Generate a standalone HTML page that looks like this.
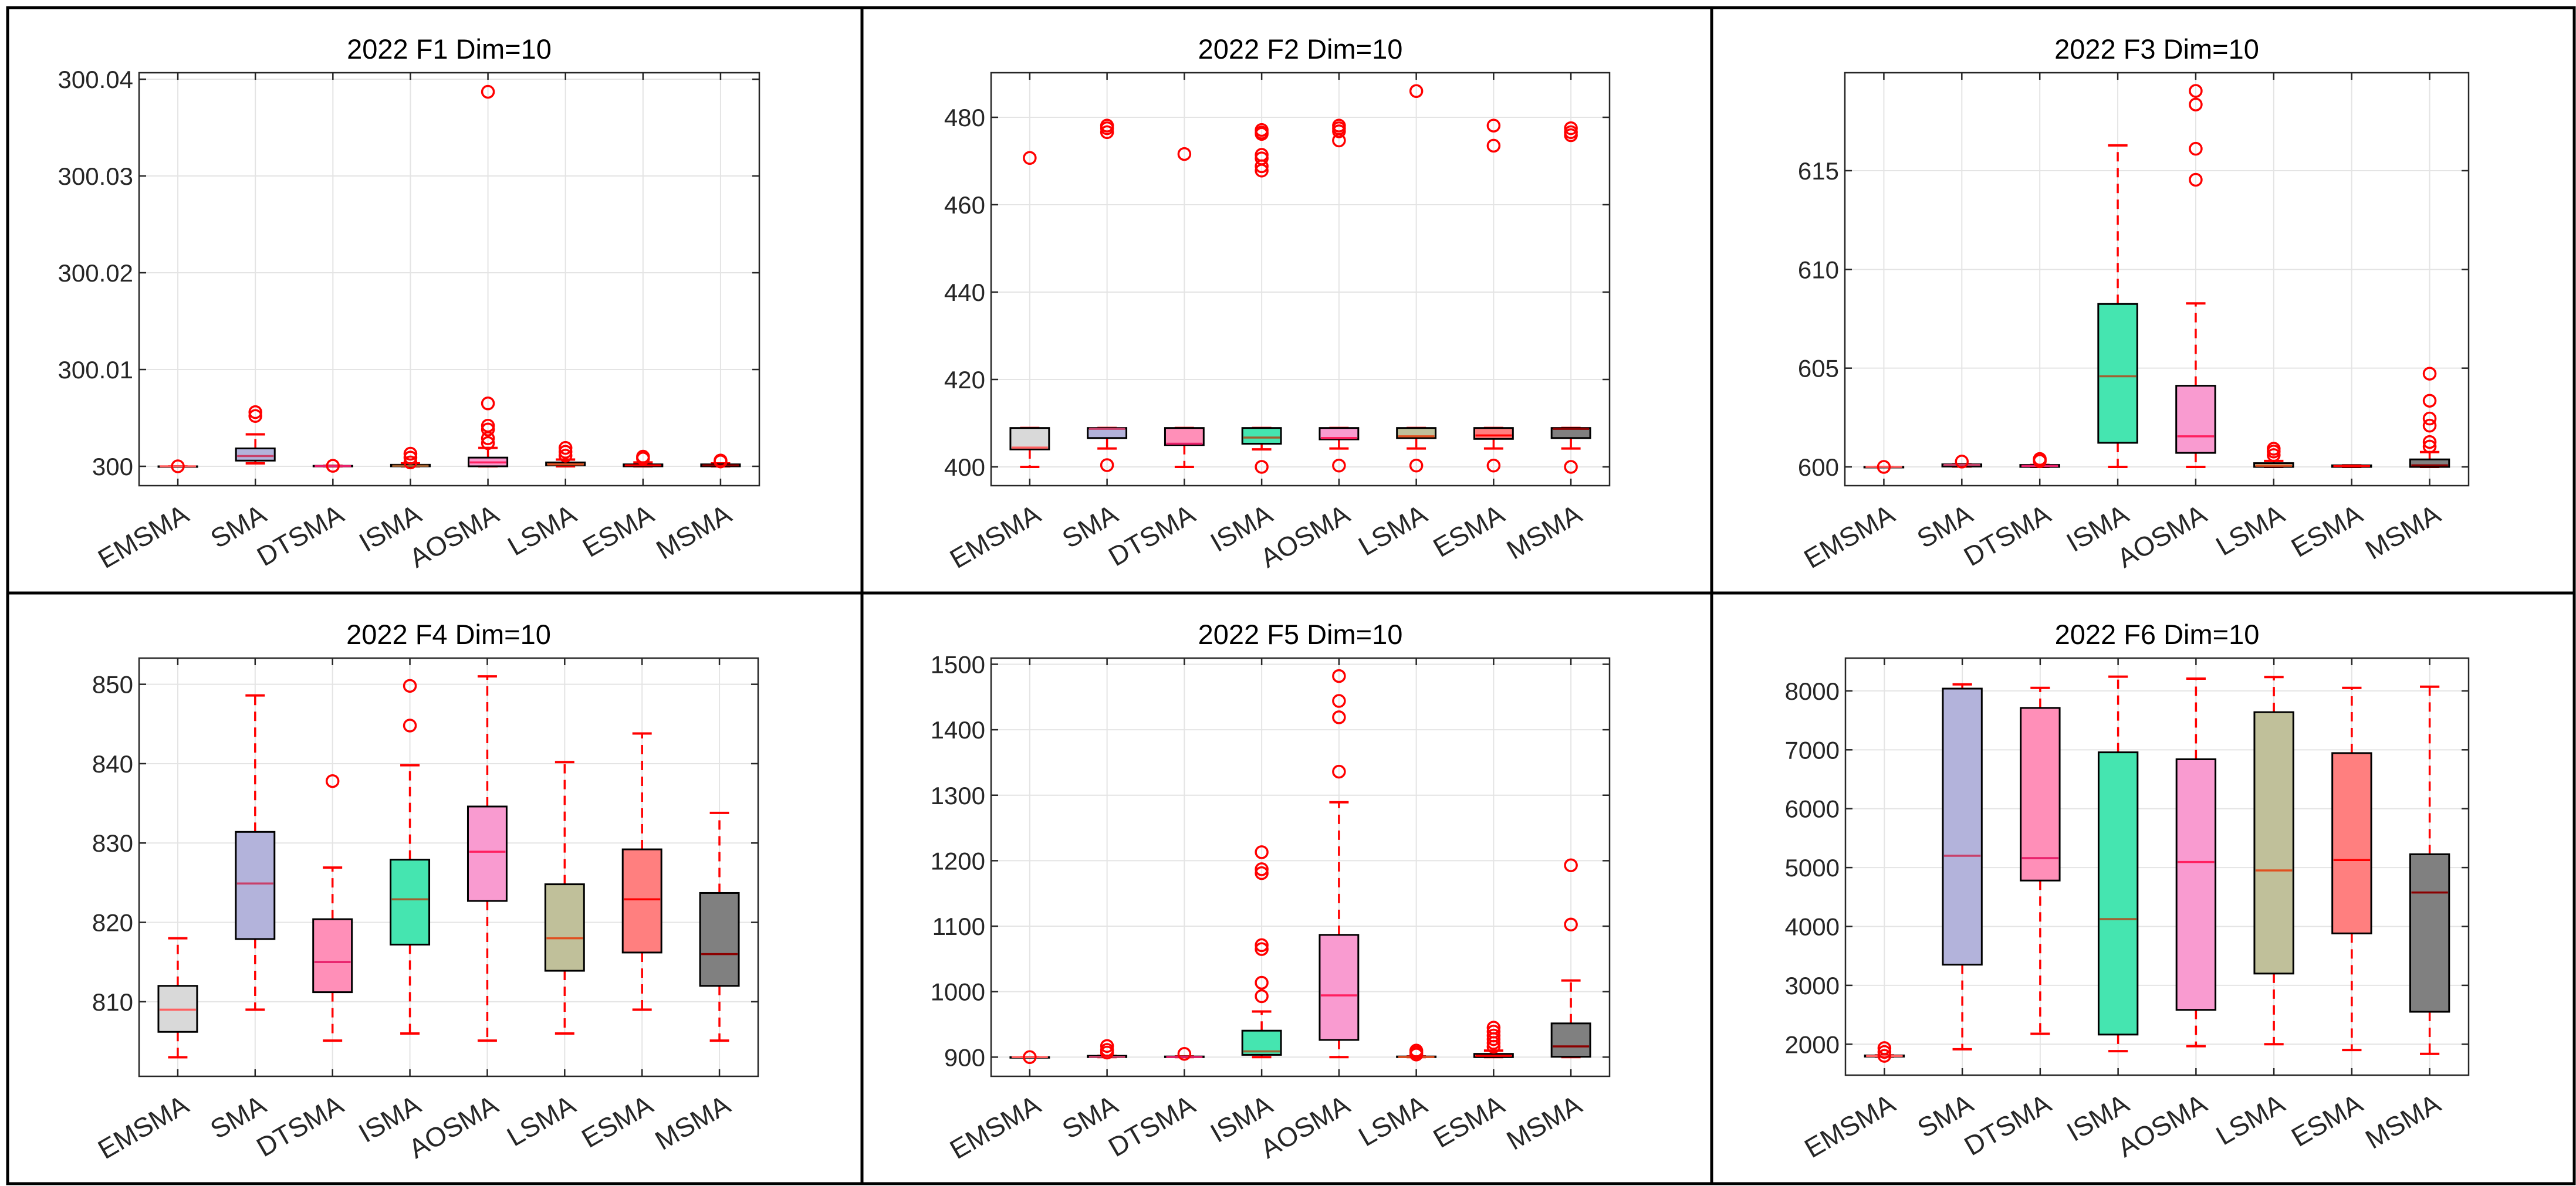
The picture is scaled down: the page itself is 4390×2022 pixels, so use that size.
<!DOCTYPE html>
<html><head><meta charset="utf-8"><style>
html,body{margin:0;padding:0;background:#fff;}
svg{display:block;font-family:"Liberation Sans",Arial,sans-serif;}
</style></head><body>
<svg id="fig" width="4390" height="2022" viewBox="0 0 4390 2022" xmlns="http://www.w3.org/2000/svg">
<rect x="0" y="0" width="4390" height="2022" fill="#fff"/>
<g id="plots"></g>
<g stroke="#000" stroke-width="5" fill="none">
<rect x="13" y="13" width="4374" height="2005"/>
<line x1="1469" y1="13" x2="1469" y2="2018"/>
<line x1="2917" y1="13" x2="2917" y2="2018"/>
<line x1="13" y1="1011" x2="4387" y2="1011"/>
</g>
</svg>
<script>
const categories = ["EMSMA","SMA","DTSMA","ISMA","AOSMA","LSMA","ESMA","MSMA"];
const fillColors = ["#d9d9d9","#b3b3db","#ff8fb8","#45e5b0","#f99bd0","#c0c09a","#ff7f7f","#808080"];
const medianColors = ["#ff6060","#c8406a","#e8206a","#a06030","#ff2060","#e05020","#ff0000","#8b0000"];

// F1
const f1Lo  = [300, 300.0003, 300, 300, 300, 300.0000, 300, 300];
const f1Q1  = [300, 300.00059, 300, 300, 300, 300.0001, 300, 300];
const f1Med = [300, 300.00106, 300.00002, 300.00005, 300.0004, 300.0002, 300.0001, 300.0001];
const f1Q3  = [300, 300.00185, 300.00005, 300.00016, 300.0009, 300.0004, 300.0002, 300.0002];
const f1Hi  = [300, 300.0033, 300.00005, 300.0003, 300.0019, 300.0007, 300.0004, 300.0003];
const f1Out = [[300],[300.0056,300.0052],[300.00005],[300.0013,300.0009,300.0004],[300.0024,300.0029,300.0038,300.0042,300.0065,300.0387],[300.0019,300.0015,300.0011],[300.0008,300.001],[300.0005,300.0006]];
const f1Ticks = [300, 300.01, 300.02, 300.03, 300.04];
const f1TickLabels = ["300","300.01","300.02","300.03","300.04"];
// F2
const f2Lo  = [400, 404.2, 400, 404.0, 404.2, 404.2, 404.2, 404.2];
const f2Q1  = [404.0, 406.6, 405.0, 405.3, 406.3, 406.6, 406.4, 406.6];
const f2Med = [404.4, 408.7, 405.3, 406.7, 406.6, 407.0, 407.2, 408.7];
const f2Q3  = [408.9, 408.9, 408.9, 408.9, 408.9, 408.9, 408.9, 408.9];
const f2Hi  = [408.9, 408.9, 408.9, 408.9, 408.9, 408.9, 408.9, 408.9];
const f2Out = [[470.7],[400.4,478.1,477.5,476.6],[471.6],[400,477.1,476.5,476.2,471.4,470.6,468.8,467.8],[400.3,478.1,477.5,476.8,474.7],[400.3,486],[400.3,478.1,473.5],[400,477.5,476.6,475.9]];
const f2Ticks = [400,420,440,460,480];
const f2TickLabels = ["400","420","440","460","480"];
// F3
const f3Lo  = [600, 600.02, 600, 600, 600, 600, 600, 600];
const f3Q1  = [600, 600.02, 600, 601.22, 600.71, 600, 600, 600];
const f3Med = [600, 600.1, 600.05, 604.59, 601.55, 600.06, 600.04, 600.08];
const f3Q3  = [600, 600.13, 600.1, 608.25, 604.11, 600.19, 600.08, 600.38];
const f3Hi  = [600, 600.13, 600.1, 616.28, 608.28, 600.3, 600.08, 600.75];
const f3Out = [[600],[600.27],[600.4,600.3],[],[619.04,618.35,616.11,614.54],[600.92,600.78,600.6],[],[604.72,603.35,602.45,602.09,601.26,601.03]];
const f3Ticks = [600,605,610,615];
const f3TickLabels = ["600","605","610","615"];
// F4
const f4Lo  = [803.0, 809.0, 805.1, 806.0, 805.1, 806.0, 809.0, 805.1];
const f4Q1  = [806.2, 817.9, 811.2, 817.2, 822.7, 813.9, 816.2, 812.0];
const f4Med = [809.0, 824.9, 815.0, 822.9, 828.9, 818.0, 822.9, 816.0];
const f4Q3  = [812.0, 831.4, 820.4, 827.9, 834.6, 824.8, 829.2, 823.7];
const f4Hi  = [818.0, 848.6, 826.9, 839.8, 851.0, 840.2, 843.8, 833.8];
const f4Out = [[],[],[837.8],[849.8,844.8],[],[],[],[]];
const f4Ticks = [810,820,830,840,850];
const f4TickLabels = ["810","820","830","840","850"];
// F5
const f5Lo  = [900, 900, 900, 900, 900, 900, 900, 900];
const f5Q1  = [900, 900, 900, 903.5, 926.3, 900, 900, 900.6];
const f5Med = [900, 900.5, 900.3, 908.8, 994.3, 900.3, 902, 916.4];
const f5Q3  = [900, 902, 901, 940.4, 1086.7, 901, 905, 951.5];
const f5Hi  = [900, 902, 901, 969.7, 1289.3, 901, 910, 1017];
const f5Out = [[900],[917,911,907],[905],[1213,1187,1181,1071,1065,1013.6,993],[1482,1444,1419,1336],[910,907,904],[945,939,933,927.5,921.7,915.8],[1193,1102.5]];
const f5Ticks = [900,1000,1100,1200,1300,1400,1500];
const f5TickLabels = ["900","1000","1100","1200","1300","1400","1500"];
// F6
const f6Lo  = [1790, 1915, 2177, 1882, 1967, 2000, 1902, 1836];
const f6Q1  = [1790, 3351, 4780, 2164, 2584, 3200, 3882, 2551];
const f6Med = [1800, 5200, 5160, 4124, 5095, 4951, 5128, 4577];
const f6Q3  = [1810, 8039, 7711, 6957, 6839, 7639, 6944, 5226];
const f6Hi  = [1810, 8111, 8052, 8242, 8209, 8236, 8052, 8072];
const f6Out = [[1934,1869,1803],[],[],[],[],[],[],[]];
const f6Ticks = [2000,3000,4000,5000,6000,7000,8000];
const f6TickLabels = ["2000","3000","4000","5000","6000","7000","8000"];

const NS = "http://www.w3.org/2000/svg";
function mk(tag, attrs, parent){ const e=document.createElementNS(NS,tag); for(const k in attrs) e.setAttribute(k,attrs[k]); parent.appendChild(e); return e; }

const panels = [
 {title:"2022 F1 Dim=10", x0:237, x1:1294, y0:124, y1:828, ymin:299.998, ymax:300.04067, lo:f1Lo,q1:f1Q1,med:f1Med,q3:f1Q3,hi:f1Hi,out:f1Out,ticks:f1Ticks,labels:f1TickLabels, id:"f1"},
 {title:"2022 F2 Dim=10", x0:1689, x1:2743, y0:124, y1:828, ymin:395.7, ymax:490.2, lo:f2Lo,q1:f2Q1,med:f2Med,q3:f2Q3,hi:f2Hi,out:f2Out,ticks:f2Ticks,labels:f2TickLabels, id:"f2"},
 {title:"2022 F3 Dim=10", x0:3144, x1:4207, y0:124, y1:828, ymin:599.05, ymax:619.96, lo:f3Lo,q1:f3Q1,med:f3Med,q3:f3Q3,hi:f3Hi,out:f3Out,ticks:f3Ticks,labels:f3TickLabels, id:"f3"},
 {title:"2022 F4 Dim=10", x0:237, x1:1292, y0:1122, y1:1835, ymin:800.6, ymax:853.3, lo:f4Lo,q1:f4Q1,med:f4Med,q3:f4Q3,hi:f4Hi,out:f4Out,ticks:f4Ticks,labels:f4TickLabels, id:"f4"},
 {title:"2022 F5 Dim=10", x0:1689, x1:2743, y0:1122, y1:1835, ymin:870.7, ymax:1509.4, lo:f5Lo,q1:f5Q1,med:f5Med,q3:f5Q3,hi:f5Hi,out:f5Out,ticks:f5Ticks,labels:f5TickLabels, id:"f5"},
 {title:"2022 F6 Dim=10", x0:3145, x1:4207, y0:1122, y1:1833, ymin:1475, ymax:8557, lo:f6Lo,q1:f6Q1,med:f6Med,q3:f6Q3,hi:f6Hi,out:f6Out,ticks:f6Ticks,labels:f6TickLabels, id:"f6"}
];

const root = document.getElementById("plots");
panels.forEach(p => {
  const g = mk("g", {}, root);
  
  
  const n = categories.length;
  const xs = i => p.x0 + (i + 0.5) / n * (p.x1 - p.x0);
  const unit = (p.x1 - p.x0) / n;
  const ys = v => p.y1 - (v - p.ymin) / (p.ymax - p.ymin) * (p.y1 - p.y0);
  categories.forEach((c,i)=>{
    const l = mk("line",{x1:xs(i),x2:xs(i),y1:p.y0,y2:p.y1,stroke:"#e4e4e4","stroke-width":2},g);
    
    
  });
  p.ticks.forEach(t=>{
    const l = mk("line",{x1:p.x0,x2:p.x1,y1:ys(t),y2:ys(t),stroke:"#e4e4e4","stroke-width":2},g);
    
    
  });
  const tt = mk("text",{x:(p.x0+p.x1)/2,y:p.y0-24,"text-anchor":"middle","font-size":47,fill:"#000"},g);
  tt.textContent = p.title;
  
  
  categories.forEach((c,i)=>{
    const bg = mk("g",{},g);
    
    
    const x = xs(i);
    const bw = unit*0.5, cw = unit*0.25;
    mk("line",{x1:x,x2:x,y1:ys(p.q3[i]),y2:ys(p.hi[i]),stroke:"#ff0000","stroke-width":3.5,"stroke-dasharray":"16 11"},bg);
    mk("line",{x1:x,x2:x,y1:ys(p.q1[i]),y2:ys(p.lo[i]),stroke:"#ff0000","stroke-width":3.5,"stroke-dasharray":"16 11"},bg);
    mk("line",{x1:x-cw/2,x2:x+cw/2,y1:ys(p.hi[i]),y2:ys(p.hi[i]),stroke:"#ff0000","stroke-width":4},bg);
    mk("line",{x1:x-cw/2,x2:x+cw/2,y1:ys(p.lo[i]),y2:ys(p.lo[i]),stroke:"#ff0000","stroke-width":4},bg);
    const top = ys(p.q3[i]), bot = ys(p.q1[i]);
    mk("rect",{x:x-bw/2,y:top,width:bw,height:Math.max(bot-top,1),fill:fillColors[i],stroke:"#000","stroke-width":3},bg);
    mk("line",{x1:x-bw/2+2,x2:x+bw/2-2,y1:ys(p.med[i]),y2:ys(p.med[i]),stroke:medianColors[i],"stroke-width":3.5},bg);
    p.out[i].forEach(v=>{
      const o = mk("circle",{cx:x,cy:ys(v),r:10,fill:"none",stroke:"#ff0000","stroke-width":3.5},bg);
      
      
    });
  });
  const fr = mk("rect",{x:p.x0,y:p.y0,width:p.x1-p.x0,height:p.y1-p.y0,fill:"none",stroke:"#262626","stroke-width":2.5},g);
  
  
  p.ticks.forEach((t,k)=>{
    const y = ys(t);
    mk("line",{x1:p.x0,x2:p.x0+12,y1:y,y2:y,stroke:"#262626","stroke-width":2.5},g);
    mk("line",{x1:p.x1-12,x2:p.x1,y1:y,y2:y,stroke:"#262626","stroke-width":2.5},g);
    const tl = mk("text",{x:p.x0-10,y:y+15,"text-anchor":"end","font-size":42,fill:"#262626"},g);
    tl.textContent = p.labels[k];
    
    
  });
  categories.forEach((c,i)=>{
    const x = xs(i);
    mk("line",{x1:x,x2:x,y1:p.y1-12,y2:p.y1,stroke:"#262626","stroke-width":2.5},g);
    mk("line",{x1:x,x2:x,y1:p.y0,y2:p.y0+12,stroke:"#262626","stroke-width":2.5},g);
    const ax = x + 22, ay = p.y1 + 58;
    const xl = mk("text",{x:ax,y:ay,"text-anchor":"end","font-size":46,fill:"#262626",transform:`rotate(-30 ${ax} ${ay})`},g);
    xl.textContent = c;
    
    
  });
});
</script>
</body></html>
